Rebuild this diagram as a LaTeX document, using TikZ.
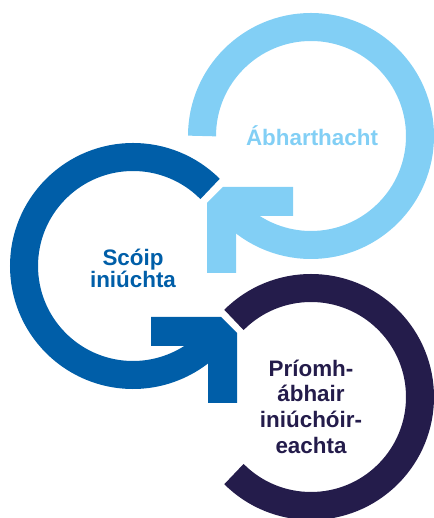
\documentclass[tikz,border=0pt]{standalone}
\usepackage{fontspec}
\setmainfont{Liberation Sans}
\usetikzlibrary{calc}
\definecolor{lightring}{HTML}{82CFF5}
\definecolor{midring}{HTML}{005EA8}
\definecolor{darkring}{HTML}{241C4B}

\begin{document}
\begin{tikzpicture}[x=1pt,y=1pt,
  ring/.style={line width=28pt},
  ringtext/.style={font=\fontsize{22.4}{21}\selectfont\bfseries, inner sep=0pt, align=center}]
\useasboundingbox (0,0) rectangle (433,518);

  \coordinate (lc) at (311,382);
  \coordinate (mc) at (133,252);
  \coordinate (dc) at (311,121);

\draw[ring, lightring] ($(lc)+(180:109pt)$) arc[start angle=180, end angle=-140, radius=109pt]; % top ring
\fill[lightring] (223,331) -- (293,331) -- (293,302) -- (236,302) -- (236,245) -- (207,245) -- (207,315) -- cycle; % arrow head

\draw[ring, midring] ($(mc)+(45:109pt)$) arc[start angle=45, end angle=320, radius=109pt]; % left ring
\fill[midring] (221,201) -- (151,201) -- (151,172) -- (208,172) -- (208,115) -- (237,115) -- (237,185) -- cycle; % arrow head

\draw[ring, darkring] ($(dc)+(135:109pt)$) arc[start angle=135, end angle=-135, radius=109pt]; % bottom ring

\node[ringtext, lightring, anchor=base] (abhar) at (312,372) {Ábharthacht};
\node[ringtext, midring, anchor=base] (scoip) at (133,230.5) {Scóip\\iniúchta};
\node[ringtext, darkring, anchor=base, font=\fontsize{22.4}{25.7}\selectfont\bfseries] (priomh) at (311,64.7) {Príomh-\\ábhair\\iniúchóir-\\eachta};

\end{tikzpicture}
\end{document}
